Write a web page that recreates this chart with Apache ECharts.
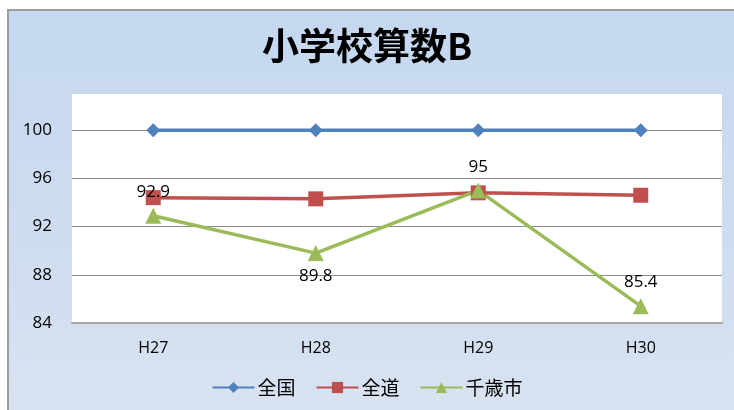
<!DOCTYPE html>
<html><head><meta charset="utf-8">
<script src="https://cdn.jsdelivr.net/npm/echarts@6/dist/echarts.min.js"></script>
<style>
html,body{margin:0;padding:0;background:#fff;width:734px;height:410px;overflow:hidden;}
#bg{position:absolute;left:7px;top:9px;width:740px;height:420px;border-left:2px solid #9c9c9c;border-top:2px solid #9c9c9c;background:linear-gradient(to bottom,#c5d8f0 0%,#cddcf0 50%,#dae3f1 100%);}
#chart{position:absolute;left:0;top:0;width:734px;height:410px;}
</style></head>
<body><div id="bg"></div><div id="chart"></div>
<script>
const categories = ['H27','H28','H29','H30'];
const zenkoku = [100, 100, 100, 100];
const zendo = [94.4, 94.3, 94.8, 94.6];
const chitose = [92.9, 89.8, 95, 85.4];
const chitoseLabelPos = ['top','bottom','top','top'];
const yTicks = [84, 88, 92, 96, 100];

const fontJP = '"Noto Sans CJK JP", "Noto Sans", sans-serif';
const fontNum = '"Open Sans", "Noto Sans", sans-serif';

const chart = echarts.init(document.getElementById('chart'), null, {renderer:'canvas'});
chart.setOption({
  backgroundColor: 'transparent',
  animation: false,
  title: {
    text: '小学校算数B', left: 'center', top: 22,
    textStyle: {fontFamily: fontJP, fontSize: 37, fontWeight: 'bold', color: '#000'}
  },
  legend: {
    bottom: 8, left: 'center', itemWidth: 42, itemHeight: 14, itemGap: 20,
    textStyle: {fontFamily: fontJP, fontSize: 19, color: '#000', padding: [0,0,0,-2]},
    data: ['全国','全道','千歳市']
  },
  grid: {left: 72, right: 12, top: 94, bottom: 87, show: true, backgroundColor: '#fff', borderWidth: 0},
  xAxis: {
    type: 'category', data: categories, boundaryGap: true,
    axisLine: {show: true, lineStyle: {color: '#a6a6a6', width: 2}},
    axisTick: {show: false},
    axisLabel: {fontFamily: fontNum, fontSize: 16, color: '#000', margin: 17}
  },
  yAxis: {
    type: 'value', min: yTicks[0], max: 103, interval: 4,
    axisLine: {show: false}, axisTick: {show: false},
    axisLabel: {fontFamily: fontNum, fontSize: 17, color: '#000', margin: 20, showMaxLabel: false,
      formatter: v => (yTicks.indexOf(v) >= 0 ? String(v) : '')},
    splitLine: {show: true, showMaxLine: false, lineStyle: {color: '#8c8c8c', width: 1}}
  },
  series: [
    {name: '全国', type: 'line', data: zenkoku, symbol: 'diamond', symbolSize: 14,
      itemStyle: {color: '#4f81bd'}, lineStyle: {width: 3.5, color: '#4f81bd'}},
    {name: '全道', type: 'line', data: zendo, symbol: 'rect', symbolSize: 15,
      itemStyle: {color: '#c0504d'}, lineStyle: {width: 3.5, color: '#c0504d'}},
    {name: '千歳市', type: 'line', data: chitose.map((v,i)=>({value: v, label: {position: chitoseLabelPos[i]}})),
      symbol: 'triangle', symbolSize: 16,
      itemStyle: {color: '#9bbb59'}, lineStyle: {width: 3.5, color: '#9bbb59'},
      label: {show: true, fontFamily: fontNum, fontSize: 17, color: '#000', distance: 7}}
  ]
});
</script></body></html>
